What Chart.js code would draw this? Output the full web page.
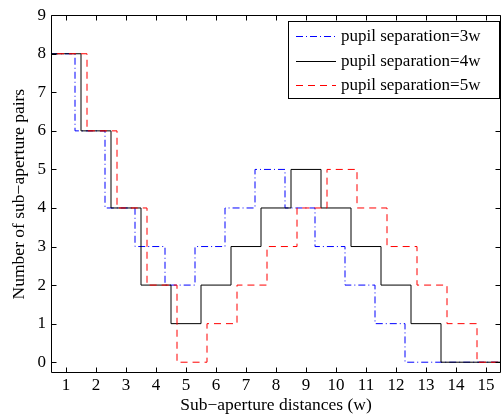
<!DOCTYPE html>
<html>
<head>
<meta charset="utf-8">
<script src="https://cdn.jsdelivr.net/npm/chart.js@4"></script>
<style>
  html, body { margin: 0; padding: 0; background: #fff; }
  #wrap { width: 501px; height: 416px; }
</style>
</head>
<body>
<div id="wrap"><canvas id="myChart" width="501" height="416"></canvas></div>
<script>
// bins on the x axis (sub-aperture distance, in w)
let bins = [1,2,3,4,5,6,7,8,9,10,11,12,13,14,15];
let xTicks = [1,2,3,4,5,6,7,8,9,10,11,12,13,14,15];
let yTicks = [0,1,2,3,4,5,6,7,8,9];

// number of sub-aperture pairs per distance
let pairs3w = [8,6,4,3,2,3,4,5,4,3,2,1,0,0,0];
let pairs4w = [8,6,4,2,1,2,3,4,5,4,3,2,1,0,0];
let pairs5w = [8,6,4,2,0,1,2,3,4,5,4,3,2,1,0];
let seriesNames = ["pupil separation=3w", "pupil separation=4w", "pupil separation=5w"];

let xMin = 0.5, xMax = 15.5;
let yMin = -0.28, yMax = 9;
let font = "Liberation Serif, Times New Roman, serif";

// step edges, curves are slightly shifted so they don't overlap
function steps(values, shift) {
    var pts = [];
    for (var i = 0; i < values.length; i++) {
        pts.push({x: Math.max(xMin, bins[i] - 0.5 + shift), y: values[i]});
    }
    pts.push({x: xMax, y: values[values.length - 1]});
    return pts;
}

// box + inward ticks like matlab, and the legend box
var framePlugin = {
    id: "frame",
    afterDatasetsDraw: function(chart) {
        var ctx = chart.ctx, a = chart.chartArea;
        var xs = chart.scales.x, ys = chart.scales.y;
        var L = Math.round(a.left) + 0.5, R = Math.round(a.right) - 0.5;
        var T = Math.round(a.top) + 0.5, B = Math.round(a.bottom) - 0.5;
        var tl = 5;
        ctx.save();
        ctx.strokeStyle = "#000";
        ctx.lineWidth = 1;
        ctx.beginPath();
        ctx.rect(L, T, R - L, B - T);
        for (var i = 0; i < xTicks.length; i++) {
            var px = Math.round(xs.getPixelForValue(xTicks[i])) + 0.5;
            ctx.moveTo(px, B); ctx.lineTo(px, B - tl);
            ctx.moveTo(px, T); ctx.lineTo(px, T + tl);
        }
        for (var j = 0; j < yTicks.length; j++) {
            var py = Math.round(ys.getPixelForValue(yTicks[j])) + 0.5;
            ctx.moveTo(L, py); ctx.lineTo(L + tl, py);
            ctx.moveTo(R, py); ctx.lineTo(R - tl, py);
        }
        ctx.stroke();
        ctx.restore();
    },
    afterDraw: function(chart) {
        var ctx = chart.ctx, a = chart.chartArea;
        var bx = 288.5, by = 21.5, bw = Math.round(a.right) - 1.5 - bx, bh = 77;
        ctx.save();
        ctx.fillStyle = "#fff";
        ctx.fillRect(bx, by, bw, bh);
        ctx.strokeStyle = "#000";
        ctx.lineWidth = 1;
        ctx.strokeRect(bx, by, bw, bh);
        ctx.font = "17px " + font;
        ctx.textBaseline = "middle";
        ctx.textAlign = "left";
        var ds = chart.data.datasets;
        for (var i = 0; i < ds.length; i++) {
            var ry = Math.round(36 + i * 24.5) + 0.5;
            ctx.strokeStyle = ds[i].borderColor;
            ctx.setLineDash(ds[i].borderDash || []);
            ctx.beginPath();
            ctx.moveTo(296, ry); ctx.lineTo(336, ry);
            ctx.stroke();
            ctx.setLineDash([]);
            ctx.fillStyle = "#000";
            ctx.fillText(ds[i].label, 341, ry);
        }
        ctx.restore();
    }
};

function generateChart() {
    var ctx = document.getElementById("myChart").getContext("2d");
    var common = {fill: false, pointRadius: 0, borderWidth: 1, stepped: "before", tension: 0};
    var myChart = new Chart(ctx, {
        type: "line",
        data: {
            datasets: [
                Object.assign({label: seriesNames[0], data: steps(pairs3w, -0.2), borderColor: "#0000ff", borderDash: [7,3,1,3], order: 3}, common),
                Object.assign({label: seriesNames[1], data: steps(pairs4w, 0), borderColor: "#000000", order: 2}, common),
                Object.assign({label: seriesNames[2], data: steps(pairs5w, 0.2), borderColor: "#ff0000", borderDash: [7,5], order: 1}, common)
            ]
        },
        options: {
            responsive: false,
            animation: false,
            layout: {padding: {top: 13, right: 0, left: 0, bottom: 0}},
            plugins: {legend: {display: false}, tooltip: {enabled: false}},
            scales: {
                x: {
                    type: "linear",
                    min: xMin, max: xMax,
                    grid: {display: false, drawTicks: false},
                    border: {display: false},
                    afterBuildTicks: function(s) { s.ticks = xTicks.map(function(v){ return {value: v}; }); },
                    afterFit: function(s) { s.height = 43; },
                    ticks: {color: "#000", font: {family: font, size: 17}, padding: 2, maxRotation: 0, autoSkip: false},
                    title: {display: true, text: "Sub−aperture distances (w)", color: "#000", font: {family: font, size: 17.5}, padding: {top: 0, bottom: 0}}
                },
                y: {
                    min: yMin, max: yMax,
                    grid: {display: false, drawTicks: false},
                    border: {display: false},
                    afterBuildTicks: function(s) { s.ticks = yTicks.map(function(v){ return {value: v}; }); },
                    afterFit: function(s) { s.width = 51; },
                    ticks: {color: "#000", font: {family: font, size: 17}, padding: 5},
                    title: {display: true, text: "Number of sub−aperture pairs", color: "#000", font: {family: font, size: 17.5}, padding: {top: 9, bottom: 0}}
                }
            }
        },
        plugins: [framePlugin]
    });
}

document.addEventListener("DOMContentLoaded", function() {
    generateChart();
});
</script>
</body>
</html>
